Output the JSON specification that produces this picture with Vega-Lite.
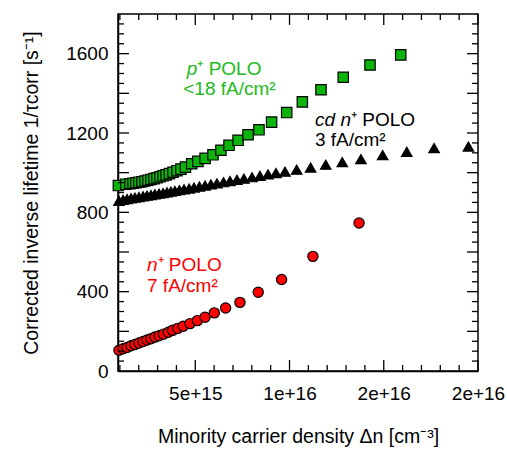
{
  "$schema": "https://vega.github.io/schema/vega-lite/v6.json",
  "width": 360,
  "height": 357,
  "autosize": "none",
  "padding": {"left": 118, "top": 14, "right": 29, "bottom": 84},
  "config": {
    "view": {"stroke": "black", "strokeWidth": 1.5},
    "font": "Liberation Sans",
    "axis": {
      "grid": false,
      "ticks": false,
      "labelFont": "Liberation Sans",
      "labelFontSize": 19,
      "labelColor": "black",
      "titleFont": "Liberation Sans",
      "titleFontSize": 19.5,
      "titleFontWeight": "normal",
      "titleColor": "black",
      "domainColor": "black",
      "domainWidth": 1.5,
      "labelFlush": false,
      "labelOverlap": false
    }
  },
  "datasets": {
    "xmajor": [{"v": 5e15}, {"v": 1e16}, {"v": 1.5e16}, {"v": 2e16}],
    "xminor": [
      {"v": 1e15}, {"v": 2e15}, {"v": 3e15}, {"v": 4e15}, {"v": 6e15}, {"v": 7e15}, {"v": 8e15}, {"v": 9e15},
      {"v": 1.1e16}, {"v": 1.2e16}, {"v": 1.3e16}, {"v": 1.4e16}, {"v": 1.6e16}, {"v": 1.7e16}, {"v": 1.8e16}, {"v": 1.9e16}
    ],
    "ymajor": [{"v": 200}, {"v": 400}, {"v": 600}, {"v": 800}, {"v": 1000}, {"v": 1200}, {"v": 1400}, {"v": 1600}],
    "yminor": [
      {"v": 50}, {"v": 100}, {"v": 150}, {"v": 250}, {"v": 300}, {"v": 350}, {"v": 450}, {"v": 500}, {"v": 550},
      {"v": 650}, {"v": 700}, {"v": 750}, {"v": 850}, {"v": 900}, {"v": 950}, {"v": 1050}, {"v": 1100}, {"v": 1150},
      {"v": 1250}, {"v": 1300}, {"v": 1350}, {"v": 1450}, {"v": 1500}, {"v": 1550}, {"v": 1650}, {"v": 1700}, {"v": 1750}
    ],
    "lifetime": [
      {"sample": "cd n+ POLO", "dn": 9.5e14, "rate": 858},
      {"sample": "cd n+ POLO", "dn": 1.17e15, "rate": 863},
      {"sample": "cd n+ POLO", "dn": 1.38e15, "rate": 867},
      {"sample": "cd n+ POLO", "dn": 1.59e15, "rate": 871},
      {"sample": "cd n+ POLO", "dn": 1.80e15, "rate": 874},
      {"sample": "cd n+ POLO", "dn": 2.01e15, "rate": 877},
      {"sample": "cd n+ POLO", "dn": 2.23e15, "rate": 881},
      {"sample": "cd n+ POLO", "dn": 2.44e15, "rate": 884},
      {"sample": "cd n+ POLO", "dn": 2.65e15, "rate": 887},
      {"sample": "cd n+ POLO", "dn": 2.86e15, "rate": 891},
      {"sample": "cd n+ POLO", "dn": 3.08e15, "rate": 894},
      {"sample": "cd n+ POLO", "dn": 3.29e15, "rate": 897},
      {"sample": "cd n+ POLO", "dn": 3.50e15, "rate": 901},
      {"sample": "cd n+ POLO", "dn": 3.71e15, "rate": 904},
      {"sample": "cd n+ POLO", "dn": 3.92e15, "rate": 908},
      {"sample": "cd n+ POLO", "dn": 4.16e15, "rate": 912},
      {"sample": "cd n+ POLO", "dn": 4.40e15, "rate": 916},
      {"sample": "cd n+ POLO", "dn": 4.67e15, "rate": 920},
      {"sample": "cd n+ POLO", "dn": 4.93e15, "rate": 925},
      {"sample": "cd n+ POLO", "dn": 5.22e15, "rate": 930},
      {"sample": "cd n+ POLO", "dn": 5.52e15, "rate": 935},
      {"sample": "cd n+ POLO", "dn": 5.83e15, "rate": 941},
      {"sample": "cd n+ POLO", "dn": 6.15e15, "rate": 946},
      {"sample": "cd n+ POLO", "dn": 6.50e15, "rate": 952},
      {"sample": "cd n+ POLO", "dn": 6.84e15, "rate": 958},
      {"sample": "cd n+ POLO", "dn": 7.21e15, "rate": 964},
      {"sample": "cd n+ POLO", "dn": 7.58e15, "rate": 970},
      {"sample": "cd n+ POLO", "dn": 8.01e15, "rate": 977},
      {"sample": "cd n+ POLO", "dn": 8.43e15, "rate": 984},
      {"sample": "cd n+ POLO", "dn": 8.86e15, "rate": 991},
      {"sample": "cd n+ POLO", "dn": 9.28e15, "rate": 998},
      {"sample": "cd n+ POLO", "dn": 9.76e15, "rate": 1005},
      {"sample": "cd n+ POLO", "dn": 1.038e16, "rate": 1015},
      {"sample": "cd n+ POLO", "dn": 1.112e16, "rate": 1026},
      {"sample": "cd n+ POLO", "dn": 1.192e16, "rate": 1040},
      {"sample": "cd n+ POLO", "dn": 1.280e16, "rate": 1053},
      {"sample": "cd n+ POLO", "dn": 1.379e16, "rate": 1068},
      {"sample": "cd n+ POLO", "dn": 1.494e16, "rate": 1089},
      {"sample": "cd n+ POLO", "dn": 1.622e16, "rate": 1105},
      {"sample": "cd n+ POLO", "dn": 1.767e16, "rate": 1124},
      {"sample": "cd n+ POLO", "dn": 1.949e16, "rate": 1132},
      {"sample": "p+ POLO", "dn": 9.2e14, "rate": 935},
      {"sample": "p+ POLO", "dn": 1.32e15, "rate": 942},
      {"sample": "p+ POLO", "dn": 1.54e15, "rate": 944},
      {"sample": "p+ POLO", "dn": 1.70e15, "rate": 947},
      {"sample": "p+ POLO", "dn": 1.85e15, "rate": 949},
      {"sample": "p+ POLO", "dn": 2.01e15, "rate": 952},
      {"sample": "p+ POLO", "dn": 2.17e15, "rate": 954},
      {"sample": "p+ POLO", "dn": 2.33e15, "rate": 958},
      {"sample": "p+ POLO", "dn": 2.49e15, "rate": 962},
      {"sample": "p+ POLO", "dn": 2.65e15, "rate": 966},
      {"sample": "p+ POLO", "dn": 2.81e15, "rate": 970},
      {"sample": "p+ POLO", "dn": 2.97e15, "rate": 974},
      {"sample": "p+ POLO", "dn": 3.13e15, "rate": 979},
      {"sample": "p+ POLO", "dn": 3.29e15, "rate": 984},
      {"sample": "p+ POLO", "dn": 3.45e15, "rate": 989},
      {"sample": "p+ POLO", "dn": 3.63e15, "rate": 995},
      {"sample": "p+ POLO", "dn": 3.82e15, "rate": 1002},
      {"sample": "p+ POLO", "dn": 4.03e15, "rate": 1010},
      {"sample": "p+ POLO", "dn": 4.24e15, "rate": 1018},
      {"sample": "p+ POLO", "dn": 4.48e15, "rate": 1028},
      {"sample": "p+ POLO", "dn": 4.81e15, "rate": 1045},
      {"sample": "p+ POLO", "dn": 5.14e15, "rate": 1057},
      {"sample": "p+ POLO", "dn": 5.52e15, "rate": 1072},
      {"sample": "p+ POLO", "dn": 5.94e15, "rate": 1090},
      {"sample": "p+ POLO", "dn": 6.36e15, "rate": 1113},
      {"sample": "p+ POLO", "dn": 6.79e15, "rate": 1138},
      {"sample": "p+ POLO", "dn": 7.27e15, "rate": 1163},
      {"sample": "p+ POLO", "dn": 7.80e15, "rate": 1191},
      {"sample": "p+ POLO", "dn": 8.38e15, "rate": 1216},
      {"sample": "p+ POLO", "dn": 9.05e15, "rate": 1255},
      {"sample": "p+ POLO", "dn": 9.85e15, "rate": 1303},
      {"sample": "p+ POLO", "dn": 1.068e16, "rate": 1357},
      {"sample": "p+ POLO", "dn": 1.167e16, "rate": 1418},
      {"sample": "p+ POLO", "dn": 1.285e16, "rate": 1481},
      {"sample": "p+ POLO", "dn": 1.427e16, "rate": 1543},
      {"sample": "p+ POLO", "dn": 1.590e16, "rate": 1594},
      {"sample": "n+ POLO", "dn": 9.5e14, "rate": 105},
      {"sample": "n+ POLO", "dn": 1.17e15, "rate": 112},
      {"sample": "n+ POLO", "dn": 1.38e15, "rate": 119},
      {"sample": "n+ POLO", "dn": 1.59e15, "rate": 127},
      {"sample": "n+ POLO", "dn": 1.80e15, "rate": 134},
      {"sample": "n+ POLO", "dn": 2.01e15, "rate": 141},
      {"sample": "n+ POLO", "dn": 2.23e15, "rate": 149},
      {"sample": "n+ POLO", "dn": 2.44e15, "rate": 156},
      {"sample": "n+ POLO", "dn": 2.65e15, "rate": 163},
      {"sample": "n+ POLO", "dn": 2.86e15, "rate": 171},
      {"sample": "n+ POLO", "dn": 3.08e15, "rate": 178},
      {"sample": "n+ POLO", "dn": 3.31e15, "rate": 186},
      {"sample": "n+ POLO", "dn": 3.57e15, "rate": 195},
      {"sample": "n+ POLO", "dn": 3.80e15, "rate": 205},
      {"sample": "n+ POLO", "dn": 4.07e15, "rate": 215},
      {"sample": "n+ POLO", "dn": 4.36e15, "rate": 226},
      {"sample": "n+ POLO", "dn": 4.72e15, "rate": 239},
      {"sample": "n+ POLO", "dn": 5.11e15, "rate": 254},
      {"sample": "n+ POLO", "dn": 5.52e15, "rate": 271},
      {"sample": "n+ POLO", "dn": 6.01e15, "rate": 293},
      {"sample": "n+ POLO", "dn": 6.61e15, "rate": 318},
      {"sample": "n+ POLO", "dn": 7.37e15, "rate": 346},
      {"sample": "n+ POLO", "dn": 8.34e15, "rate": 397},
      {"sample": "n+ POLO", "dn": 9.58e15, "rate": 461},
      {"sample": "n+ POLO", "dn": 1.124e16, "rate": 578},
      {"sample": "n+ POLO", "dn": 1.369e16, "rate": 746}
    ],
    "notes": [
      {"sample": "p+ POLO", "part": "lead", "text": "p", "dn": 5.11e15, "rate": 1493},
      {"sample": "p+ POLO", "part": "rest", "text": "⁺ POLO", "dn": 5.11e15, "rate": 1493},
      {"sample": "p+ POLO", "part": "rest", "text": "<18 fA/cm²", "dn": 4.36e15, "rate": 1390},
      {"sample": "cd n+ POLO", "part": "lead", "text": "cd n", "dn": 1.326e16, "rate": 1236},
      {"sample": "cd n+ POLO", "part": "rest", "text": "⁺ POLO", "dn": 1.326e16, "rate": 1236},
      {"sample": "cd n+ POLO", "part": "rest", "text": "3 fA/cm²", "dn": 1.135e16, "rate": 1133},
      {"sample": "n+ POLO", "part": "lead", "text": "n", "dn": 3.0e15, "rate": 506},
      {"sample": "n+ POLO", "part": "rest", "text": "⁺ POLO", "dn": 3.0e15, "rate": 506},
      {"sample": "n+ POLO", "part": "rest", "text": "7 fA/cm²", "dn": 2.44e15, "rate": 398}
    ]
  },
  "layer": [
    {
      "data": {"name": "lifetime"},
      "mark": {"type": "point", "filled": true, "stroke": "black", "strokeWidth": 1.2, "opacity": 1},
      "encoding": {
        "x": {
          "field": "dn", "type": "quantitative",
          "scale": {"domain": [9e14, 2e16], "nice": false, "zero": false},
          "axis": {
            "orient": "bottom",
            "values": [5e15, 1e16, 1.5e16, 2e16],
            "format": ".0e",
            "labelPadding": 13,
            "title": "Minority carrier density Δn [cm⁻³]",
            "titlePadding": 24
          }
        },
        "y": {
          "field": "rate", "type": "quantitative",
          "scale": {"domain": [0, 1800], "nice": false},
          "axis": {
            "orient": "left",
            "values": [0, 200, 400, 600, 800, 1000, 1200, 1400, 1600, 1800],
            "format": "d",
            "labelPadding": 10,
            "title": "Corrected inverse lifetime 1/τcorr [s⁻¹]",
            "titlePadding": 24
          }
        },
        "shape": {
          "field": "sample", "type": "nominal", "legend": null,
          "scale": {"domain": ["cd n+ POLO", "p+ POLO", "n+ POLO"], "range": ["triangle-up", "square", "circle"]}
        },
        "fill": {
          "field": "sample", "type": "nominal", "legend": null,
          "scale": {"domain": ["cd n+ POLO", "p+ POLO", "n+ POLO"], "range": ["#000000", "#0db40d", "#ff0000"]}
        },
        "size": {
          "field": "sample", "type": "nominal", "legend": null,
          "scale": {"domain": ["cd n+ POLO", "p+ POLO", "n+ POLO"], "range": [110, 105, 125]}
        }
      }
    },
    {
      "data": {"name": "xmajor"},
      "mark": {"type": "rule", "color": "black", "strokeWidth": 1.3},
      "encoding": {
        "x": {"field": "v", "type": "quantitative", "scale": {"domain": [9e14, 2e16], "nice": false, "zero": false}},
        "y": {"datum": 0, "type": "quantitative", "scale": {"domain": [0, 1800], "nice": false}},
        "y2": {"datum": 55}
      }
    },
    {
      "data": {"name": "xmajor"},
      "mark": {"type": "rule", "color": "black", "strokeWidth": 1.3},
      "encoding": {
        "x": {"field": "v", "type": "quantitative", "scale": {"domain": [9e14, 2e16], "nice": false, "zero": false}},
        "y": {"datum": 1800, "type": "quantitative", "scale": {"domain": [0, 1800], "nice": false}},
        "y2": {"datum": 1745}
      }
    },
    {
      "data": {"name": "xminor"},
      "mark": {"type": "rule", "color": "black", "strokeWidth": 1.3},
      "encoding": {
        "x": {"field": "v", "type": "quantitative", "scale": {"domain": [9e14, 2e16], "nice": false, "zero": false}},
        "y": {"datum": 0, "type": "quantitative", "scale": {"domain": [0, 1800], "nice": false}},
        "y2": {"datum": 30}
      }
    },
    {
      "data": {"name": "xminor"},
      "mark": {"type": "rule", "color": "black", "strokeWidth": 1.3},
      "encoding": {
        "x": {"field": "v", "type": "quantitative", "scale": {"domain": [9e14, 2e16], "nice": false, "zero": false}},
        "y": {"datum": 1800, "type": "quantitative", "scale": {"domain": [0, 1800], "nice": false}},
        "y2": {"datum": 1770}
      }
    },
    {
      "data": {"name": "ymajor"},
      "mark": {"type": "rule", "color": "black", "strokeWidth": 1.3},
      "encoding": {
        "y": {"field": "v", "type": "quantitative", "scale": {"domain": [0, 1800], "nice": false}},
        "x": {"datum": 9e14, "type": "quantitative", "scale": {"domain": [9e14, 2e16], "nice": false, "zero": false}},
        "x2": {"datum": 1.484e15}
      }
    },
    {
      "data": {"name": "ymajor"},
      "mark": {"type": "rule", "color": "black", "strokeWidth": 1.3},
      "encoding": {
        "y": {"field": "v", "type": "quantitative", "scale": {"domain": [0, 1800], "nice": false}},
        "x": {"datum": 2e16, "type": "quantitative", "scale": {"domain": [9e14, 2e16], "nice": false, "zero": false}},
        "x2": {"datum": 1.9416e16}
      }
    },
    {
      "data": {"name": "yminor"},
      "mark": {"type": "rule", "color": "black", "strokeWidth": 1.3},
      "encoding": {
        "y": {"field": "v", "type": "quantitative", "scale": {"domain": [0, 1800], "nice": false}},
        "x": {"datum": 9e14, "type": "quantitative", "scale": {"domain": [9e14, 2e16], "nice": false, "zero": false}},
        "x2": {"datum": 1.22e15}
      }
    },
    {
      "data": {"name": "yminor"},
      "mark": {"type": "rule", "color": "black", "strokeWidth": 1.3},
      "encoding": {
        "y": {"field": "v", "type": "quantitative", "scale": {"domain": [0, 1800], "nice": false}},
        "x": {"datum": 2e16, "type": "quantitative", "scale": {"domain": [9e14, 2e16], "nice": false, "zero": false}},
        "x2": {"datum": 1.968e16}
      }
    },
    {
      "data": {"name": "notes"},
      "transform": [{"filter": "datum.part === 'lead'"}],
      "mark": {"type": "text", "align": "right", "baseline": "alphabetic", "fontStyle": "italic", "fontSize": 19, "font": "Liberation Sans"},
      "encoding": {
        "x": {"field": "dn", "type": "quantitative", "scale": {"domain": [9e14, 2e16], "nice": false, "zero": false}},
        "y": {"field": "rate", "type": "quantitative", "scale": {"domain": [0, 1800], "nice": false}},
        "text": {"field": "text", "type": "nominal"},
        "color": {
          "field": "sample", "type": "nominal", "legend": null,
          "scale": {"domain": ["cd n+ POLO", "p+ POLO", "n+ POLO"], "range": ["#000000", "#22b922", "#ff0000"]}
        }
      }
    },
    {
      "data": {"name": "notes"},
      "transform": [{"filter": "datum.part === 'rest'"}],
      "mark": {"type": "text", "align": "left", "baseline": "alphabetic", "fontSize": 19, "font": "Liberation Sans"},
      "encoding": {
        "x": {"field": "dn", "type": "quantitative", "scale": {"domain": [9e14, 2e16], "nice": false, "zero": false}},
        "y": {"field": "rate", "type": "quantitative", "scale": {"domain": [0, 1800], "nice": false}},
        "text": {"field": "text", "type": "nominal"},
        "color": {
          "field": "sample", "type": "nominal", "legend": null,
          "scale": {"domain": ["cd n+ POLO", "p+ POLO", "n+ POLO"], "range": ["#000000", "#22b922", "#ff0000"]}
        }
      }
    }
  ]
}
